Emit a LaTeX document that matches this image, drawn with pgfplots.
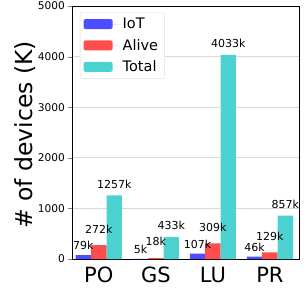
\documentclass[border=0pt]{standalone}
\usepackage{pgfplots}
\pgfplotsset{compat=1.18}
\usepackage{fontspec}
\setmainfont{DejaVu Sans}
\definecolor{ciot}{RGB}{77,77,255}
\definecolor{calive}{RGB}{255,77,77}
\definecolor{ctotal}{RGB}{77,210,210}
\begin{document}
\begin{tikzpicture}[x=1pt,y=1pt]
\begin{axis}[
  scale only axis,
  width=227pt, height=253pt,
  xmin=-0.47, xmax=3.51,
  ymin=0, ymax=5000,
  ybar, bar width=0.27,
  xtick={0,1,2,3},
  xticklabels={PO,GS,LU,PR},
  x tick label style={font=\fontsize{21}{21}\selectfont, yshift=-1pt},
  major x tick style={draw=none},
  ytick={0,1000,2000,3000,4000,5000},
  y tick label style={font=\fontsize{10.6}{11}\selectfont},
  /pgf/number format/assume math mode=true,
  scaled y ticks=false,
  yticklabel={\pgfmathprintnumber[1000 sep={}]{\tick}},
  tick align=outside,
  major tick length=3.5pt,
  ytick pos=left,
  ymajorgrids,
  grid style={gray!30, line width=0.8pt},
  axis line style={line width=0.9pt},
  ylabel={\# of devices (K)},
  ylabel style={font=\fontsize{23.5}{24}\selectfont, at={(axis description cs:-0.207,0.49)}, anchor=center},
  legend style={at={(axis description cs:0.035,0.975)}, anchor=north west,
    draw=gray!25, rounded corners=2pt, font=\fontsize{14.5}{15}\selectfont,
    row sep=5pt, inner sep=3.5pt},
  legend cell align=left,
  legend image code/.code={\fill[#1] (0pt,-5pt) rectangle (29pt,5pt); \path (0pt,0pt) -- (36pt,0pt);},
  legend style={nodes={inner xsep=3pt}},
  point meta=rawy,
  nodes near coords={\pgfmathprintnumber[1000 sep={}]{\pgfplotspointmeta}k},
  every node near coord/.append style={font=\fontsize{11}{11}\selectfont, inner sep=1pt, black},
]
\addplot[fill=ciot, draw=none, bar shift=-0.27, every node near coord/.append style={yshift=4pt}] coordinates {(0,79) (1,5) (2,107) (3,46)};
\addplot[fill=calive, draw=none, bar shift=0, every node near coord/.append style={yshift=11pt}] coordinates {(0,272) (1,18) (2,309) (3,129)};
\addplot[fill=ctotal, draw=none, bar shift=0.27, every node near coord/.append style={yshift=6pt}] coordinates {(0,1257) (1,433) (2,4033) (3,857)};
\legend{IoT,Alive,Total}
\end{axis}
\pgfresetboundingbox
\path[use as bounding box] (current axis.south west) ++(-72pt,-31pt) rectangle ++(307pt,290pt);
\end{tikzpicture}
\end{document}
